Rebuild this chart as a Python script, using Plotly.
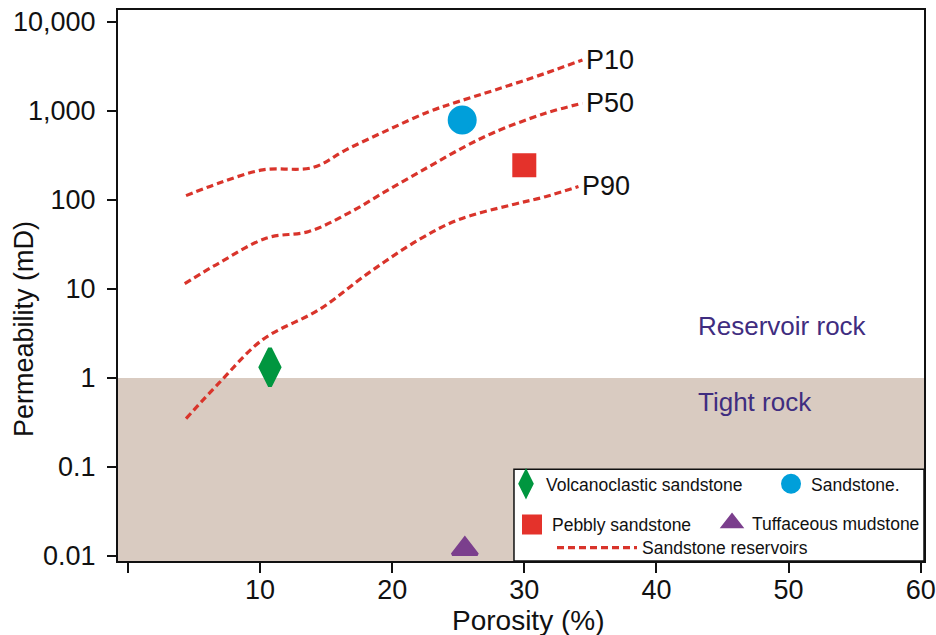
import numpy as np
import plotly.graph_objects as go

# Percentile trends for the sandstone reservoirs (porosity %, permeability mD)
p10_x = [4.4, 6.9, 10.2, 14.0, 16.5, 19.7, 22.8, 25.0, 27.8, 31.6, 34.4]
p10_y = [112, 155, 218, 232, 366, 614, 985, 1275, 1725, 2655, 3750]

p50_x = [4.3, 6.9, 10.5, 13.7, 16.7, 19.7, 22.8, 25.5, 27.8, 31.6, 34.4]
p50_y = [11.5, 19.6, 37.4, 44.3, 71.3, 130, 238, 398, 582, 944, 1224]

p90_x = [4.4, 6.9, 10.2, 14.5, 18.2, 22.0, 25.0, 29.0, 31.6, 34.1]
p90_y = [0.35, 0.88, 2.7, 5.9, 15.1, 35.7, 60, 88, 109, 142]

curve_names = ["P10", "P50", "P90"]

# Lithology samples
rock_names = ["Volcanoclastic sandstone", "Sandstone.", "Pebbly sandstone", "Tuffaceous mudstone"]
rock_porosity = [10.75, 25.3, 30.0, 25.5]
rock_perm = [1.32, 794, 246, 0.012]

# Reservoir / tight cut-off (mD)
cutoff_perm = 1.0

# Axis ticks
x_tickvals = [0, 10, 20, 30, 40, 50, 60]
x_ticktext = ["", "10", "20", "30", "40", "50", "60"]
y_tickvals = [0.01, 0.1, 1, 10, 100, 1000, 10000]
y_ticktext = ["0.01", "0.1", "1", "10", "100", "1,000", "10,000"]

FONT = "Arial, 'Liberation Sans', sans-serif"
INK = "#111111"
CURVE_RED = "#d9342b"
rock_colors = ["#00963f", "#009fda", "#e4322b", "#7b3f8d"]
rock_symbols = ["diamond-tall", "circle", "square", "triangle-up"]
rock_sizes = [27, 25, 20, 22]
rock_strokes = [4, 4, 4, 3]
rock_legends = ["legend", "legend2", "legend3", "legend4"]

fig = go.Figure()

# Tight-rock band below the cut-off
fig.add_shape(type="rect", xref="paper", x0=0, x1=1, yref="y", y0=1e-4, y1=cutoff_perm,
              fillcolor="#d9cbc1", line_width=0, layer="below")

for i, (cx, cy) in enumerate([(p10_x, p10_y), (p50_x, p50_y), (p90_x, p90_y)]):
    fig.add_trace(go.Scatter(
        x=cx, y=cy, mode="lines", name="Sandstone reservoirs",
        line=dict(color=CURVE_RED, width=3.2, dash="7px,4px", shape="spline", smoothing=1.0),
        legend="legend5", legendgroup="res", showlegend=(i == 0), hoverinfo="skip",
    ))
    fig.add_annotation(x=cx[-1], y=np.log10(cy[-1]), xref="x", yref="y",
                       text=curve_names[i], showarrow=False, xanchor="left", yanchor="middle",
                       xshift=2, font=dict(family=FONT, size=27, color=INK))

for i in range(len(rock_names)):
    fig.add_trace(go.Scatter(
        x=[rock_porosity[i]], y=[rock_perm[i]], mode="markers", name=rock_names[i],
        marker=dict(symbol=rock_symbols[i], size=rock_sizes[i], color=rock_colors[i],
                    line=dict(color=rock_colors[i], width=rock_strokes[i])),
        legend=rock_legends[i],
    ))

# Legend frame
fig.add_shape(type="rect", xref="paper", yref="paper", x0=0.4913, x1=1.0, y0=0.0, y1=0.1664,
              fillcolor="white", line=dict(color=INK, width=1.5), layer="above")

def legend_box(x, y, itemwidth=30):
    return dict(x=x, y=y, xanchor="left", yanchor="middle", bgcolor="rgba(0,0,0,0)",
                borderwidth=0, font=dict(family=FONT, size=17.5, color=INK),
                itemwidth=itemwidth, orientation="v", itemclick=False, itemdoubleclick=False)

fig.update_layout(
    width=936, height=635,
    margin=dict(l=118, r=12, t=10, b=74, autoexpand=False),
    paper_bgcolor="white", plot_bgcolor="white",
    font=dict(family=FONT, size=27, color=INK),
    xaxis=dict(range=[-0.75, 60.25], tickvals=x_tickvals, ticktext=x_ticktext,
               ticks="outside", ticklen=10, tickwidth=2, tickcolor=INK,
               showline=True, linewidth=2, linecolor=INK, mirror=True,
               showgrid=False, zeroline=False, ticklabelstandoff=-6,
               ticklabeloverflow="allow", automargin=False,
               tickfont=dict(family=FONT, size=27, color=INK)),
    yaxis=dict(type="log", range=[-2.056, 4.135], tickvals=y_tickvals, ticktext=y_ticktext,
               ticks="outside", ticklen=9, tickwidth=2, tickcolor=INK,
               showline=True, linewidth=2, linecolor=INK, mirror=True,
               showgrid=False, zeroline=False, ticklabelstandoff=6, automargin=False,
               tickfont=dict(family=FONT, size=27, color=INK)),
    legend=legend_box(0.4814, 0.140),
    legend2=legend_box(0.8102, 0.140),
    legend3=legend_box(0.4888, 0.066),
    legend4=legend_box(0.737, 0.069),
    legend5=legend_box(0.5385, 0.024, itemwidth=80),
    showlegend=True,
)

# Axis titles and zone labels
fig.add_annotation(xref="paper", yref="paper", x=0.5087, y=-0.1085, xanchor="center",
                   yanchor="middle", text="Porosity (%)", showarrow=False,
                   font=dict(family=FONT, size=28, color=INK))
fig.add_annotation(xref="paper", yref="paper", x=-0.1166, y=0.421, xanchor="center",
                   yanchor="middle", text="Permeability (mD)", textangle=-90, showarrow=False,
                   font=dict(family=FONT, size=27, color=INK))
fig.add_annotation(xref="paper", yref="paper", x=0.717, y=0.4265, xanchor="left",
                   yanchor="middle", text="Reservoir rock", showarrow=False,
                   font=dict(family=FONT, size=26, color="#3f2d80"))
fig.add_annotation(xref="paper", yref="paper", x=0.717, y=0.2886, xanchor="left",
                   yanchor="middle", text="Tight rock", showarrow=False,
                   font=dict(family=FONT, size=26, color="#3f2d80"))

fig.write_html("out.html")
